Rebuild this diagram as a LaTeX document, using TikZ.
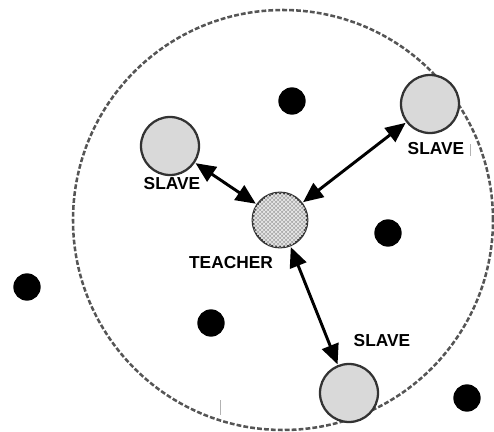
\documentclass[tikz,border=0pt]{standalone}
\usepackage{fontspec}
\setmainfont{Liberation Sans}
\usetikzlibrary{arrows.meta,patterns}
\definecolor{ringgray}{HTML}{555555}
\definecolor{slavefill}{HTML}{D9D9D9}
\definecolor{edgegray}{HTML}{333333}
\begin{document}
\begin{tikzpicture}[x=0.75pt,y=-0.75pt,
  ring/.style={draw=ringgray,line width=1.9pt,dash pattern=on 3.6pt off 1.6pt},
  slavenode/.style={circle,draw=edgegray,line width=1.7pt,fill=slavefill,inner sep=0pt,minimum size=43.5pt},
  teachernode/.style={circle,draw=edgegray,line width=1.7pt,fill=gray!65,postaction={pattern=crosshatch,pattern color=gray!12},inner sep=0pt,minimum size=41pt},
  dotnode/.style={circle,fill=black,inner sep=0pt,minimum size=20.5pt},
  lbl/.style={font=\fontsize{13}{13}\selectfont\bfseries,text=black,inner sep=0pt},
  link/.style={line width=2.2pt,{Triangle[length=15pt,width=13pt]}-{Triangle[length=15pt,width=13pt]},shorten <=0.5pt,shorten >=0.5pt},
  speck/.style={draw=gray!60,line width=0.5pt}]
\useasboundingbox (0,0) rectangle (494,432);
\node[circle,ring,inner sep=0pt,minimum size=315pt] (zone) at (283,220) {};
% dots
\node[dotnode] (d1) at (292,101) {};
\node[dotnode] (d2) at (388,233) {};
\node[dotnode] (d3) at (27,287) {};
\node[dotnode] (d4) at (211,323) {};
\node[dotnode] (d5) at (467,398) {};
% agents
\node[teachernode] (teacher) at (280,220) {};
\node[slavenode] (s1) at (170,146) {};
\node[slavenode] (s2) at (430,104) {};
\node[slavenode] (s3) at (349,393) {};
% labels
\node[lbl] (ls1) at (172,184) {SLAVE};
\node[lbl] (ls2) at (436,149) {SLAVE};
\node[lbl] (ls3) at (382,341) {SLAVE};
\node[lbl] (lt) at (231,263) {TEACHER};
% links
\draw[link] (s1) -- (teacher);
\draw[link] (teacher) -- (s2);
\draw[link] (teacher) -- (s3);
% specks
\coordinate (k1) at (220,400);
\coordinate (k2) at (220,415);
\draw[speck] (k1) -- (k2);
\coordinate (k3) at (470,144);
\coordinate (k4) at (470,156);
\draw[speck] (k3) -- (k4);
\end{tikzpicture}
\end{document}
